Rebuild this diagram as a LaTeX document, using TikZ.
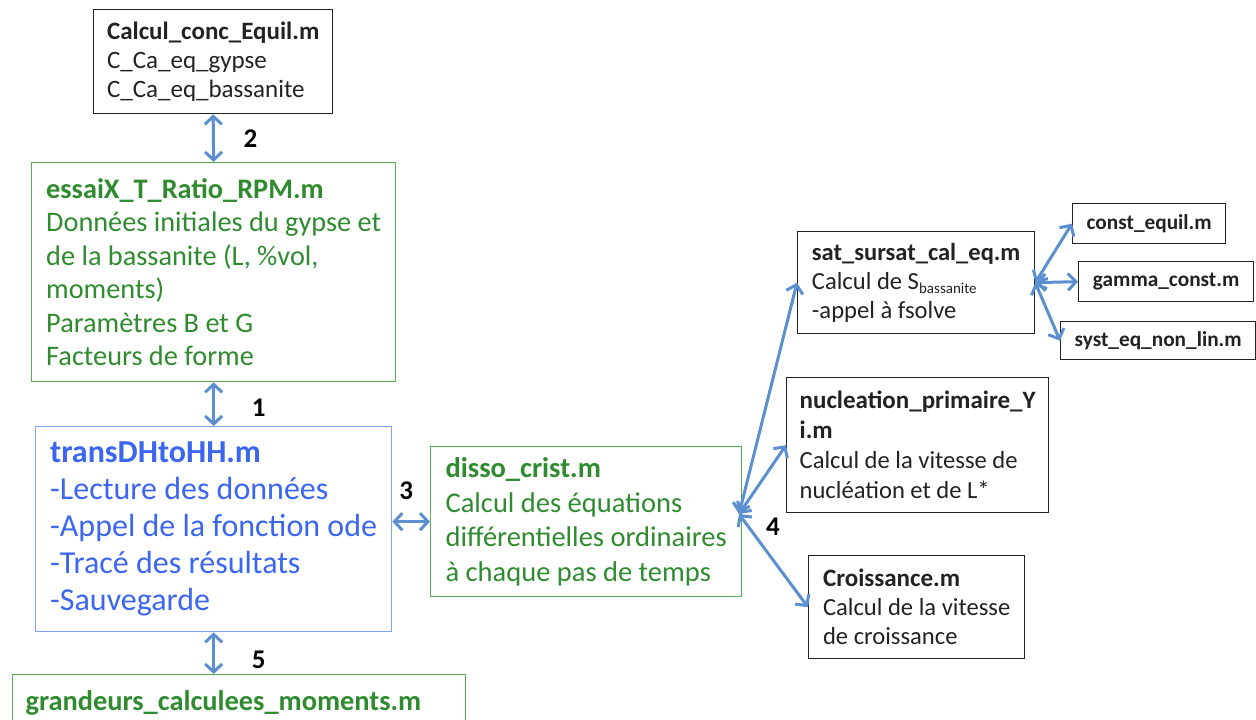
\documentclass[tikz,border=0pt]{standalone}
\usepackage{fontspec}
\setmainfont{Carlito}
\usetikzlibrary{arrows.meta}
\definecolor{cgreen}{HTML}{2E8B2E}
\definecolor{cgreenln}{HTML}{55B055}
\definecolor{cblue}{HTML}{3A66F0}
\definecolor{cblueln}{HTML}{7FA0FF}
\definecolor{cdark}{HTML}{222222}
\definecolor{carrow}{HTML}{5B8FCF}

\begin{document}
\begin{tikzpicture}[x=1pt,y=-1pt,
  box/.style={draw=cdark,line width=1.3pt,anchor=north west,align=left,
    inner xsep=13pt,inner ysep=0pt,text=cdark},
  big/.style={box,font=\fontsize{28.3}{33.6}\selectfont},
  mid/.style={box,font=\fontsize{24.6}{29}\selectfont},
  small/.style={box,font=\fontsize{21.3}{22}\selectfont\bfseries,inner xsep=0pt,align=center},
  link/.style={carrow,line width=3pt,
    {Straight Barb[length=8pt,width=17pt]}-{Straight Barb[length=8pt,width=17pt]}},
  lbl/.style={text=black,font=\fontsize{27}{27}\selectfont\bfseries}]
  \clip (0,0) rectangle (1256,720);

  % main chain
  \node[mid,font=\fontsize{25}{29}\selectfont,minimum width=239pt,minimum height=104pt] (calc) at (93,9)
    {\textbf{Calcul\_conc\_Equil.m}\\C\_Ca\_eq\_gypse\\C\_Ca\_eq\_bassanite};
  \node[big,draw=cgreenln,text=cgreen,minimum width=364pt,minimum height=219pt] (essai) at (31,162)
    {\textbf{essaiX\_T\_Ratio\_RPM.m}\\Données initiales du gypse et\\de la bassanite (L, \%vol,\\moments)\\Paramètres B et G\\Facteurs de forme};
  \node[big,draw=cblueln,text=cblue,font=\fontsize{32}{37}\selectfont,minimum width=356pt,minimum height=205pt] (trans) at (35,426)
    {\textbf{transDHtoHH.m}\\-Lecture des données\\-Appel de la fonction ode\\-Tracé des résultats\\-Sauvegarde};
  \node[big,draw=cgreenln,text=cgreen,font=\fontsize{28.4}{34}\selectfont,minimum width=453pt,minimum height=56pt,text width=427pt] (grand) at (12,674)
    {\textbf{grandeurs\_calculees\_moments.m}};
  \node[big,draw=cgreenln,text=cgreen,font=\fontsize{28.5}{34.5}\selectfont,minimum width=311pt,minimum height=150pt] (disso) at (430,446)
    {\textbf{disso\_crist.m}\\Calcul des équations\\différentielles ordinaires\\à chaque pas de temps};

  % sub-routines
  \node[mid,minimum width=237pt,minimum height=102pt] (sat) at (797,231)
    {{\fontsize{24.5}{29}\selectfont\textbf{sat\_sursat\_cal\_eq.m}}\\Calcul de S{\fontsize{15}{15}\selectfont\raisebox{-4pt}{bassanite}}\\-appel à fsolve};
  \node[mid,font=\fontsize{24.6}{30}\selectfont,minimum width=261pt,minimum height=135pt] (nucl) at (786,377)
    {{\fontsize{25}{30}\selectfont\textbf{nucleation\_primaire\_Y}}\\{\fontsize{25}{30}\selectfont\textbf{i.m}}\\Calcul de la vitesse de\\nucléation et de L*};
  \node[mid,minimum width=216pt,minimum height=103pt] (crois) at (808,555)
    {{\fontsize{25}{29}\selectfont\textbf{Croissance.m}}\\Calcul de la vitesse\\de croissance};
  \node[small,minimum width=153pt,minimum height=40pt] (const) at (1072,203) {const\_equil.m};
  \node[small,minimum width=175pt,minimum height=40pt] (gamma) at (1078,261) {gamma\_const.m};
  \node[small,minimum width=195pt,minimum height=38pt] (syst) at (1060,321) {syst\_eq\_non\_lin.m};

  % connectors
  \draw[link] (calc.south) -- (essai.north) node[lbl,midway,xshift=37pt]{2};
  \draw[link] (essai.south) -- (trans.north) node[lbl,midway,xshift=45pt,yshift=-4pt]{1};
  \draw[link] (trans.south) -- (trans.south |- grand.north) node[lbl,midway,xshift=45pt,yshift=-7pt]{5};
  \draw[link] (disso.west -| trans.east) -- (disso.west) node[lbl,midway,xshift=-5pt,yshift=31pt]{3};
  \coordinate (hub) at (739,514);
  \draw[link] (hub) -- (sat.west);
  \draw[link] (hub) -- (nucl.west);
  \draw[link] (hub) -- (crois.west);
  \node[lbl] (four) at (773,527) {4};
  \draw[link] (sat.east) -- (const.west);
  \draw[link] (sat.east) -- (gamma.west);
  \draw[link] (sat.east) -- (syst.west);
\end{tikzpicture}
\end{document}
